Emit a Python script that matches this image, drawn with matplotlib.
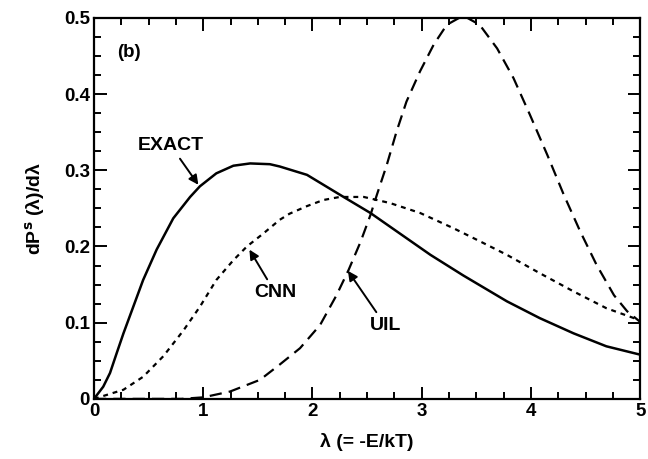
import matplotlib.pyplot as plt
from matplotlib.ticker import MultipleLocator

plt.rcParams['font.family'] = ['Liberation Sans', 'DejaVu Sans']
plt.rcParams['font.weight'] = 'bold'
plt.rcParams['mathtext.default'] = 'bf'

# values
lam_exact = [0, 0.085, 0.147, 0.208, 0.27, 0.36, 0.45, 0.574, 0.726, 0.88, 0.97, 1.12,
             1.276, 1.43, 1.61, 1.70, 1.95, 2.25, 2.53, 2.77, 3.08, 3.38, 3.78, 4.08,
             4.39, 4.69, 5.0]
exact = [0.0, 0.016, 0.034, 0.06, 0.086, 0.121, 0.156, 0.196, 0.237, 0.265, 0.279, 0.296,
         0.306, 0.309, 0.308, 0.305, 0.294, 0.268, 0.244, 0.22, 0.189, 0.162, 0.128, 0.106,
         0.086, 0.069, 0.058]

lam_cnn = [0, 0.27, 0.45, 0.635, 0.82, 0.97, 1.12, 1.276, 1.40, 1.55, 1.70, 1.79, 1.95,
           2.1, 2.25, 2.47, 2.71, 2.985, 3.29, 3.53, 3.78, 4.08, 4.39, 4.69, 5.0]
cnn = [0.0, 0.012, 0.029, 0.056, 0.09, 0.121, 0.156, 0.182, 0.20, 0.217, 0.235, 0.243,
       0.253, 0.261, 0.265, 0.265, 0.257, 0.244, 0.224, 0.207, 0.189, 0.165, 0.141, 0.119,
       0.103]

lam_uil = [0, 0.8, 1.0, 1.245, 1.52, 1.70, 1.886, 2.07, 2.22, 2.33, 2.44, 2.53, 2.59,
           2.68, 2.77, 2.86, 2.985, 3.11, 3.23, 3.38, 3.53, 3.69, 3.84, 3.99, 4.15, 4.30,
           4.45, 4.60, 4.76, 4.88, 5.0]
uil = [0.0, 0.0, 0.002, 0.0096, 0.025, 0.045, 0.0665, 0.097, 0.136, 0.169, 0.206, 0.241,
       0.268, 0.307, 0.351, 0.39, 0.43, 0.465, 0.491, 0.503, 0.491, 0.46, 0.421, 0.373,
       0.32, 0.268, 0.22, 0.176, 0.136, 0.115, 0.101]

fig = plt.figure(figsize=(6.48, 4.59), dpi=100)
ax = fig.add_axes([0.145, 0.131, 0.843, 0.830])

ax.plot(lam_exact, exact, color='black', lw=1.8, linestyle='-')
ax.plot(lam_cnn, cnn, color='black', lw=1.6, linestyle=(0, (2.2, 2.2)))
ax.plot(lam_uil, uil, color='black', lw=1.6, linestyle=(0, (5.5, 3.2)))

ax.set_xlim(0, 5)
ax.set_ylim(0, 0.5)
ax.xaxis.set_major_locator(MultipleLocator(1))
ax.xaxis.set_minor_locator(MultipleLocator(0.25))
ax.yaxis.set_major_locator(MultipleLocator(0.1))
ax.yaxis.set_minor_locator(MultipleLocator(0.025))
ax.set_yticks([0, 0.1, 0.2, 0.3, 0.4, 0.5])
ax.set_yticklabels(['0', '0.1', '0.2', '0.3', '0.4', '0.5'])
ax.tick_params(which='both', direction='in', top=True, right=True, labelsize=13.5, width=1.4)
ax.tick_params(which='major', length=9, pad=3)
ax.tick_params(which='minor', length=5)
for s in ax.spines.values():
    s.set_linewidth(1.6)

ax.set_xlabel('λ (= -E/kT)', fontsize=14, fontweight='bold', labelpad=9)
ax.set_ylabel('dP$^{s}$ (λ)/dλ', fontsize=14, fontweight='bold', labelpad=12)

ax.text(0.32, 0.455, '(b)', fontsize=13.5, fontweight='bold', ha='center', va='center')

arrow = dict(arrowstyle='-|>', color='black', lw=1.4, mutation_scale=14)
ax.annotate('EXACT', xy=(0.97, 0.278), xytext=(0.70, 0.333), fontsize=14,
            fontweight='bold', ha='center', va='center', arrowprops=arrow)
ax.annotate('CNN', xy=(1.41, 0.199), xytext=(1.66, 0.139), fontsize=14,
            fontweight='bold', ha='center', va='center', arrowprops=arrow)
ax.annotate('UIL', xy=(2.31, 0.171), xytext=(2.67, 0.096), fontsize=14,
            fontweight='bold', ha='center', va='center', arrowprops=arrow)

fig.savefig('out.png', dpi=100)
